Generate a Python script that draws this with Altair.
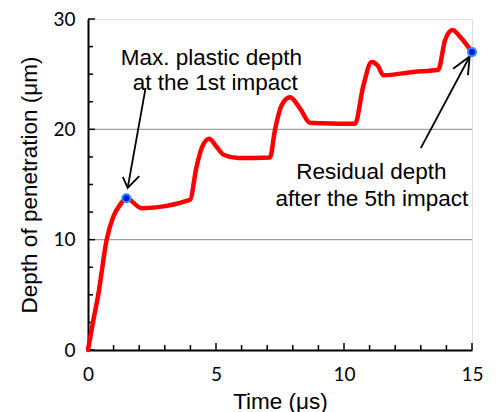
import altair as alt
import pandas as pd

# curve data (time in µs, depth in µm)
time_us = [0, 0.2, 0.4, 0.73, 0.99, 1.25, 1.5, 2.1, 3.98, 4.24, 4.44, 4.73, 5.03, 5.29, 5.87, 7.11,
           7.30, 7.57, 7.89, 8.28, 8.67, 9.19, 10.43, 10.75, 11.08, 11.34, 11.54, 12.71, 13.68,
           13.95, 14.24, 14.53, 15.0]
depth_um = [0, 2.6, 5.0, 10.0, 12.1, 13.15, 13.75, 12.85, 13.6, 16.6, 18.3, 19.15, 18.4, 17.7, 17.4, 17.45,
            19.9, 22.2, 22.9, 21.9, 20.6, 20.55, 20.5, 23.9, 26.1, 25.7, 24.9, 25.2, 25.4,
            28.1, 29.0, 28.4, 27.0]

marker_t = [1.5, 15.0]
marker_d = [13.75, 27.0]

grid_vals = [10, 20]
x_minor = [1, 2, 3, 4, 6, 7, 8, 9, 11, 12, 13, 14]
x_major = [0, 5, 10, 15]
y_minor = [2.5, 5, 7.5, 12.5, 15, 17.5, 22.5, 25, 27.5]
y_major = [0, 10, 20, 30]

# annotation arrows: shaft and head polylines
arrow_id = ["a1s", "a1s", "a1h", "a1h", "a1h", "a2s", "a2s", "a2h", "a2h", "a2h"]
arrow_x = [2.25, 1.55, 1.36, 1.55, 2.0, 13.0, 14.91, 14.26, 14.91, 14.84]
arrow_y = [23.75, 14.7, 15.7, 14.7, 15.77, 18.3, 26.6, 25.5, 26.6, 24.9]
arrow_ord = [0, 1, 0, 1, 2, 0, 1, 0, 1, 2]

label_text = ["Max. plastic depth", "at the 1st impact", "Residual depth", "after the 5th impact"]
label_x = [4.82, 4.97, 11.07, 11.09]
label_y = [26.5, 24.2, 16.15, 13.7]

W, H = 384, 331
AXF = "Lato"
TF = "Liberation Sans"

xs = alt.Scale(domain=[0, 15], nice=False, zero=False)
ys = alt.Scale(domain=[0, 30], nice=False, zero=False)

curve = pd.DataFrame({"t": time_us, "d": depth_um})
markers = pd.DataFrame({"t": marker_t, "d": marker_d})
grid = pd.DataFrame({"g": grid_vals})
xtmin = pd.DataFrame({"v": x_minor})
xtmaj = pd.DataFrame({"v": x_major})
ytmin = pd.DataFrame({"v": y_minor})
ytmaj = pd.DataFrame({"v": y_major})
arrows = pd.DataFrame({"id": arrow_id, "x": arrow_x, "y": arrow_y, "o": arrow_ord})
labels = pd.DataFrame({"txt": label_text, "x": label_x, "y": label_y})

gridlines = alt.Chart(grid).mark_rule(color="#a0a0a0", strokeWidth=1.3).encode(
    y=alt.Y("g:Q", scale=ys,
            axis=alt.Axis(values=y_major, title="Depth of penetration (μm)", grid=False,
                          ticks=False, tickSize=0, labelPadding=13, labelFontSize=19, labelFont=AXF,
                          labelColor="black", labelFlush=False, labelOverlap=False,
                          titleFont=TF, titleFontSize=22.5, titleFontWeight="normal",
                          titleColor="black", titleX=-51.5, titleBaseline="alphabetic",
                          domainColor="black", domainWidth=2)),
    x=alt.value(0), x2=alt.value(W),
)

xaxis_holder = alt.Chart(grid).mark_rule(opacity=0).encode(
    x=alt.X("g:Q", scale=xs,
            axis=alt.Axis(values=x_major, title="Time (μs)", grid=False, ticks=False, tickSize=0,
                          labelPadding=30, labelBaseline="alphabetic", labelFontSize=19, labelFont=AXF,
                          labelColor="black", labelFlush=False, labelOverlap=False,
                          titleFont=TF, titleFontSize=22.5, titleFontWeight="normal",
                          titleColor="black", titleY=58, titleBaseline="alphabetic",
                          domainColor="black", domainWidth=2)),
    y=alt.value(0), y2=alt.value(1),
)

def xticks(df, length):
    return alt.Chart(df).mark_rule(color="black", strokeWidth=1.5).encode(
        x=alt.X("v:Q", scale=xs), y=alt.value(H), y2=alt.value(H - length))

def yticks(df, length):
    return alt.Chart(df).mark_rule(color="black", strokeWidth=1.5).encode(
        y=alt.Y("v:Q", scale=ys), x=alt.value(0), x2=alt.value(length))

line = alt.Chart(curve).mark_line(color="#ff0000", strokeWidth=4.5, interpolate="monotone",
                                  strokeJoin="round", strokeCap="round").encode(
    x=alt.X("t:Q", scale=xs),
    y=alt.Y("d:Q", scale=ys),
)

pts = alt.Chart(markers).mark_point(filled=True, shape="circle", size=65, fill="#0016d8",
                                    stroke="#2a8cff", strokeWidth=2, opacity=1).encode(
    x=alt.X("t:Q", scale=xs),
    y=alt.Y("d:Q", scale=ys),
)

arrow_lines = alt.Chart(arrows).mark_line(color="black", strokeWidth=1.8).encode(
    x=alt.X("x:Q", scale=xs),
    y=alt.Y("y:Q", scale=ys),
    detail="id:N",
    order="o:Q",
)

texts = alt.Chart(labels).mark_text(font=TF, fontSize=22.5, color="black",
                                    align="center", baseline="middle").encode(
    x=alt.X("x:Q", scale=xs),
    y=alt.Y("y:Q", scale=ys),
    text="txt:N",
)

chart = alt.layer(
    gridlines, xaxis_holder, xticks(xtmin, 5), xticks(xtmaj, 7), yticks(ytmin, 5), yticks(ytmaj, 7),
    line, arrow_lines, texts, pts
).properties(
    width=W, height=H,
    autosize=alt.AutoSizeParams(type="none"),
    padding={"left": 88, "top": 19, "right": 26, "bottom": 62},
).configure_view(stroke="black", strokeWidth=2).configure(background="white")

chart.save("out.html", embed_options={"renderer": "svg", "actions": False})
